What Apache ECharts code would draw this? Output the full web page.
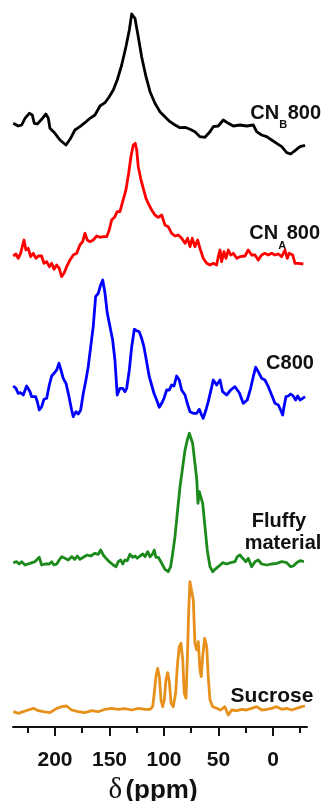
<!DOCTYPE html>
<html><head><meta charset="utf-8">
<script src="https://cdn.jsdelivr.net/npm/echarts@6/dist/echarts.min.js"></script>
<style>html,body{margin:0;padding:0;background:#fff}#c{width:327px;height:801px}</style>
</head><body><div id="c"></div>
<script>
// [ppm, intensity relative to the trace baseline]
const cnb800 = [[238.3,16.7],[233.7,14],[230.5,15],[227.5,21.7],[223.6,26.7],[220.8,25],[219.0,16.7],[216.2,16],[212.2,20.7],[208.3,26],[206.1,21.7],[204.6,11.7],[200,6.7],[195.4,0],[189.9,-5],[186.2,0.7],[181.7,10],[177.1,13.3],[172.5,17.3],[167.9,21.7],[163.3,25],[158.7,34],[154.1,37.3],[150.2,43.3],[146.5,50],[142.9,60],[138.8,75],[134.9,93.3],[131.8,110],[129.6,126],[126.6,121.7],[123.6,103.3],[120.5,83.3],[116.5,63.3],[112.8,48.3],[108.3,36.7],[103.7,28.3],[99.1,23.3],[94.5,18.3],[89.9,15],[85.3,12.3],[80.7,12.7],[76.1,10.7],[71.6,8.3],[67.0,3.3],[62.4,2.7],[57.8,8.3],[54.8,13.3],[50.2,14],[45.6,20],[41.0,16.7],[36.4,14],[30.3,15],[24.1,14],[18.1,15],[15.0,8.3],[10.4,5],[5.8,3.3],[1.2,0],[-3.4,-3.3],[-8.0,-6.7],[-12.6,-12.7],[-16.2,-14],[-20.2,-10.7],[-24.8,-6.7],[-29.4,-5.3]];

const cna800 = [[238.3,4],[235.8,6],[233.7,1.7],[231.5,6.7],[229.6,15],[228.4,20],[226.6,10],[224.5,11.7],[222.3,3.3],[219.9,6.7],[217.4,1.7],[215.3,4],[212.2,4],[210.1,-3.3],[207.6,-1.7],[205.2,-6.7],[203.0,-3.3],[200.9,-9.3],[198.4,-5],[196.1,-8.3],[193.9,-16.7],[191.7,-13.3],[189.3,-6.7],[186.2,0],[183.2,5],[180.1,6.7],[177.1,15],[174.6,18.3],[172.5,26.7],[170.4,20],[167.9,18.3],[164.9,20],[161.7,24],[158.7,22.7],[155.7,23.3],[152.6,23.3],[150.2,30],[148.0,40],[145.0,43.3],[142.9,48.3],[140.4,48.3],[137.9,58.3],[134.9,70],[132.4,86.7],[130.3,103.3],[128.2,115],[126.3,116.7],[125.0,110],[123.6,93.3],[121.4,81.7],[119.0,71.7],[116.5,61.7],[114.4,56.7],[111.3,50],[108.3,45],[105.2,42.7],[102.1,45],[99.1,35],[96.1,33.3],[93.0,26.7],[89.9,24],[86.9,25],[83.8,21.7],[80.7,16.7],[78.3,21.7],[76.1,13.3],[74.0,21.7],[71.6,13.3],[69.1,20],[67.0,11.7],[64.0,1.7],[60.8,-3.3],[57.8,-5],[54.8,-3.3],[51.7,-5],[50.2,3.3],[48.6,10],[47.1,-1.7],[45.0,8.3],[43.1,1.7],[41.0,10],[38.8,5],[36.4,6.7],[33.3,1.7],[30.3,3.3],[25.7,4],[22.7,10],[19.6,5],[16.5,5],[13.5,0],[10.4,5],[7.4,6.7],[4.3,5],[1.2,6.7],[-1.8,5],[-4.9,6],[-8.0,3.3],[-11.0,10],[-13.1,1.7],[-14.9,6.7],[-18.1,5],[-20.2,-3.3],[-23.2,-3.3],[-27.8,-4]];

const c800 = [[238.3,14],[235.8,11.7],[233.7,6.7],[231.5,7.3],[229.1,5],[227.5,4],[226.0,14],[224.5,15],[222.9,8.3],[221.4,3.3],[219.9,1.7],[217.7,3.3],[216.2,-1.7],[214.4,-10],[212.2,-6.7],[210.1,0.7],[207.6,1.7],[205.2,15],[203.0,24],[200.9,26.7],[198.4,30],[196.3,36.7],[194.5,30],[192.4,21.7],[189.9,16.7],[187.8,6.7],[186.2,5],[184.7,-10],[183.2,-16.7],[180.7,-11.7],[178.6,-14],[176.4,-10],[174.0,6.7],[171.6,20],[169.5,33.3],[167.2,53.3],[164.9,73.3],[162.7,103.3],[160.3,106.7],[158.1,115],[156.2,120],[154.1,106.7],[152.0,86.7],[149.5,73.3],[147.1,60],[145.0,40],[142.9,5],[140.4,11.7],[137.9,11.7],[135.8,8.3],[134.2,11.7],[131.8,30],[129.6,53.3],[127.2,70.7],[125.0,69.3],[122.7,68.3],[120.5,61.7],[118.4,53.3],[115.9,38.3],[113.5,23.3],[111.3,15],[109.2,6.7],[106.7,0],[104.3,-7.3],[102.1,-3.3],[100.0,1.7],[97.5,10],[95.1,10],[93.0,15],[90.8,14],[88.4,24],[86.0,20],[83.8,10],[80.7,5],[78.6,-3.3],[76.1,-11.7],[73.1,-13.3],[70.0,-13.3],[67.6,-9.3],[65.5,-15],[64.0,-18.3],[61.5,-10],[59.4,-1.7],[57.2,8.3],[54.8,20],[51.7,15],[48.6,20],[46.2,8.3],[42.5,5],[38.8,10],[34.9,13.3],[30.9,7.3],[27.3,-3.3],[23.6,0],[20.5,11.7],[18.1,23.3],[15.9,32.7],[13.5,28.3],[10.4,21.7],[7.4,20],[4.3,13.3],[1.2,5],[-1.8,-3.3],[-4.9,-5],[-7.0,-10],[-8.9,-15],[-10.1,-6.7],[-11.9,3.3],[-14.0,4],[-16.2,6],[-18.6,4],[-20.8,0],[-22.6,4],[-24.8,0],[-27.2,1.7],[-29.4,3.3]];

const fluffy = [[238.3,2.3],[235.1,3.3],[232.8,1],[230.5,3.3],[227.5,0],[222.9,1.7],[218.4,3.3],[214.4,7.7],[212.2,0],[209.2,1],[205.2,1],[203.0,3.3],[200.9,0],[198.4,1],[196.1,5],[193.9,8.3],[190.8,6.7],[187.8,5],[184.7,8.3],[181.7,5.7],[179.5,9],[177.1,5.7],[174.0,7.7],[170.4,10],[167.2,9],[163.3,11.7],[160.3,10.7],[158.1,15],[155.7,10],[153.2,6.7],[150.2,3.3],[146.5,0],[144.0,-1.7],[141.9,3.3],[139.7,5],[137.9,1],[135.8,5],[133.7,4.3],[131.2,10.7],[128.7,7.7],[126.6,9],[124.5,6.7],[122.0,9],[119.5,11],[117.4,8.3],[115.0,13.3],[112.8,8.3],[110.4,11],[108.9,15],[107.4,7.7],[105.2,7.7],[102.1,1.7],[99.1,-4.3],[96.1,-6.7],[93.9,-1.7],[92.0,11.7],[89.9,28.3],[87.8,51.7],[85.3,78.3],[82.8,98.3],[80.7,115],[78.6,125],[76.8,131.7],[75.0,130],[73.7,121.7],[71.6,101.7],[70.0,86.7],[68.8,61.7],[67.6,73.3],[66.1,75],[64.5,61.7],[62.4,38.3],[60.3,15],[57.8,-1.7],[55.3,-6.7],[53.2,-4.3],[50.2,-1.7],[46.2,2.3],[42.5,1],[38.8,2.3],[34.9,3.3],[32.7,8.3],[30.3,10],[27.8,6.7],[24.8,3.3],[22.7,6.7],[19.6,-1.7],[16.5,3.3],[13.5,5],[10.4,1],[5.8,0],[1.2,1],[-3.4,1.7],[-8.0,3.3],[-12.6,2.3],[-16.2,-1.7],[-18.6,-1],[-21.7,2.3],[-24.8,4.3],[-28.4,3.3]];

const sucrose = [[238.3,-0.7],[233.7,-2.3],[229.1,-0.7],[224.5,1],[219.9,2.7],[215.3,0.3],[210.7,-0.7],[204.6,-1.7],[198.4,2.7],[193.9,4.3],[189.3,5],[184.7,1],[178.6,-0.7],[172.5,-1.7],[166.3,0.3],[160.3,-0.7],[154.1,1.7],[148.0,2.7],[141.9,1.7],[135.8,2.3],[129.6,1],[123.6,2.7],[117.4,1.7],[112.8,1.7],[110.4,4.3],[108.9,17.7],[107.4,34.3],[105.8,42.7],[104.3,34.3],[102.7,11],[101.2,4.3],[99.7,11],[98.2,31],[96.6,38.3],[95.1,29.3],[93.5,7.7],[91.5,4.3],[89.3,17.7],[87.8,44.3],[86.0,64.3],[84.4,67.7],[82.8,51],[81.4,17.7],[79.8,12.7],[78.6,51],[77.3,101],[76.2,129.3],[74.6,131],[73.1,111],[71.6,67.7],[70.0,61],[68.5,69.3],[67.0,41],[65.8,34.3],[64.5,54.3],[62.7,72.7],[60.8,64.3],[59.4,34.3],[57.8,11],[55.3,4.3],[51.7,2.7],[48.0,1],[44.1,4.3],[41.0,-4],[37.9,1],[33.3,0.3],[28.7,1.7],[24.1,1],[19.6,2.7],[15.0,4.3],[10.4,1],[5.8,1.7],[1.2,2.7],[-3.4,4.3],[-8.0,1.7],[-12.6,2.7],[-17.2,1],[-21.7,2.7],[-26.3,4.3],[-29.4,5]];

const traceNames = ['CNB800','CNA800','C800','Fluffy material','Sucrose'];
const traceColors = ['#000000','#ff0000','#0000ff','#1b8a1b','#e8901c'];
const traceOffsets = [587, 467, 327, 162, 16];
const traces = [cnb800, cna800, c800, fluffy, sucrose];
const majorTicks = [0, 50, 100, 150, 200];
const minorTicks = [-25, 25, 75, 125, 175, 225];

const chart = echarts.init(document.getElementById('c'), null, {renderer: 'canvas'});
const FONT = '"Liberation Sans", Arial, sans-serif';
const INK = '#111111';

const series = traces.map((t, i) => ({
  name: traceNames[i], type: 'line', xAxisIndex: 0, yAxisIndex: 0,
  showSymbol: false, symbol: 'none', animation: false,
  lineStyle: {color: traceColors[i], width: 2.8, join: 'round'},
  data: t.map(p => [p[0], p[1] + traceOffsets[i]])
}));

const cv = document.createElement('canvas').getContext('2d');
function w(text, size) { cv.font = 'bold ' + size + 'px ' + FONT; return cv.measureText(text).width; }

function subLabel(main1, sub, main2, rightX, cy, size, subSize, subDy) {
  const w2 = w(main2, size), ws = w(sub, subSize), w1 = w(main1, size);
  const x2 = rightX - w2, xs = x2 - ws - 0.5, x1 = xs - w1;
  const mk = (txt, x, y, s) => ({type: 'text', x: x, y: y, silent: true,
    style: {text: txt, fill: INK, font: 'bold ' + s + 'px ' + FONT, textAlign: 'left', textVerticalAlign: 'middle'}});
  return [mk(main1, x1, cy, size), mk(sub, xs, cy + subDy, subSize), mk(main2, x2, cy, size)];
}
function plain(txt, cx, cy, size) {
  return {type: 'text', x: cx, y: cy, silent: true,
    style: {text: txt, fill: INK, font: 'bold ' + size + 'px ' + FONT, textAlign: 'center', textVerticalAlign: 'middle'}};
}

const graphics = [].concat(
  subLabel('CN', 'B', '800', 321, 113, 20, 11, 12),
  subLabel('CN', 'A', '800', 320, 233, 20, 11, 13),
  [plain('C800', 290, 363, 20),
   plain('Fluffy', 279, 521, 20),
   plain('material', 283, 543, 20),
   plain('Sucrose', 272, 696, 21)]
);

chart.setOption({
  animation: false,
  grid: {left: 13, right: 20, top: 0, bottom: 74, containLabel: false, outerBoundsMode: 'none'},
  xAxis: [{
    type: 'value', inverse: true, min: -31.2, max: 238.5,
    name: '{d|δ} {p|(ppm)}', nameLocation: 'middle', nameGap: 40,
    nameTextStyle: {padding: [0, 14, 0, 0], rich: {
      d: {fontFamily: '"Liberation Serif", serif', fontSize: 29, color: INK},
      p: {fontFamily: FONT, fontSize: 26, fontWeight: 'bold', color: INK}}},
    axisLine: {show: true, lineStyle: {color: INK, width: 2}},
    axisTick: {show: true, customValues: majorTicks, length: 9, lineStyle: {color: INK, width: 2}},
    axisLabel: {show: true, customValues: majorTicks, margin: 23, color: INK, fontSize: 21, fontWeight: 'bold', fontFamily: FONT},
    splitLine: {show: false}
  }, {
    type: 'value', inverse: true, min: -31.2, max: 238.5, position: 'bottom',
    axisLine: {show: false},
    axisTick: {show: true, customValues: minorTicks, length: 6, lineStyle: {color: INK, width: 2}},
    axisLabel: {show: false},
    splitLine: {show: false}
  }],
  yAxis: {type: 'value', min: 0, max: 727, show: false},
  series: series,
  graphic: graphics
});
</script>
</body></html>
